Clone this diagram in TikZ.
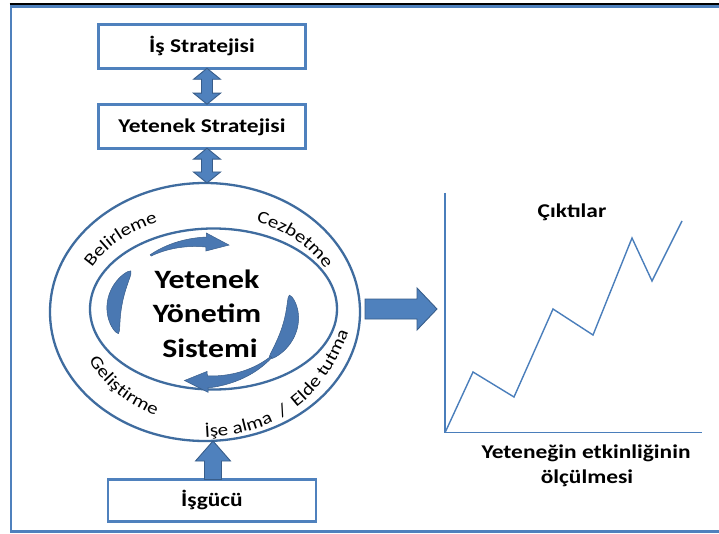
\documentclass[tikz,border=0pt]{standalone}
\usepackage{fontspec}
\setmainfont{Carlito}[FakeStretch=1.2]
\usetikzlibrary{calc,decorations.text,shapes.geometric}
\definecolor{boxblue}{HTML}{4F81BD}
\definecolor{arrowedge}{HTML}{385D8A}
\definecolor{ringblue}{HTML}{3F6C9F}
\definecolor{chartblue}{HTML}{4A7EBB}
\definecolor{swirl}{HTML}{4A78B2}
\newcommand\ringfont{\fontsize{17.5}{21}\selectfont}
\newcommand\swirlarrow[6]{%
\filldraw[swirlfill] plot[domain=#1:#2, samples=25, variable=\t] ({203+(89+(#4+(#5-#4)*(\t-#1)/(#2-#1)))*cos(\t)}, {312+(70+(#4+(#5-#4)*(\t-#1)/(#2-#1)))*sin(\t)})
 -- ({203+(89+#6)*cos(#2)},{312+(70+#6)*sin(#2)})
 -- ({203+89*cos(#3)},{312+70*sin(#3)})
 -- ({203+(89-#6)*cos(#2)},{312+(70-#6)*sin(#2)})
 -- plot[domain=#2:#1, samples=25, variable=\t] ({203+(89-(#4+(#5-#4)*(\t-#1)/(#2-#1)))*cos(\t)}, {312+(70-(#4+(#5-#4)*(\t-#1)/(#2-#1)))*sin(\t)}) -- cycle;}
\newcommand\swirlmoon[3]{%
\filldraw[swirlfill] plot[domain=#1:#2, samples=30, variable=\t] ({203+(89+#3*sin((\t-#1)*180/(#2-#1))^0.6)*cos(\t)}, {312+(70+#3*sin((\t-#1)*180/(#2-#1))^0.6)*sin(\t)}) -- plot[domain=#2:#1, samples=30, variable=\t] ({203+(89-#3*sin((\t-#1)*180/(#2-#1))^0.6)*cos(\t)}, {312+(70-#3*sin((\t-#1)*180/(#2-#1))^0.6)*sin(\t)}) -- cycle;}
\newcommand\vdouble[3]{%
\filldraw[blockarrow] let \p1=(#2), \p2=(#3) in
 (#1pt,\y1) -- (#1pt+13.5pt,\y1-11pt) -- (#1pt+5.5pt,\y1-11pt) -- (#1pt+5.5pt,\y2+11pt) -- (#1pt+13.5pt,\y2+11pt)
 -- (#1pt,\y2) -- (#1pt-13.5pt,\y2+11pt) -- (#1pt-5.5pt,\y2+11pt) -- (#1pt-5.5pt,\y1-11pt) -- (#1pt-13.5pt,\y1-11pt) -- cycle;}
\begin{document}
\begin{tikzpicture}[x=1pt,y=-1pt,
  box/.style={draw=boxblue, line width=2.8pt, fill=white, minimum width=207pt, minimum height=44pt, inner sep=0pt, outer sep=0pt, font=\fontsize{19.5}{23}\selectfont\bfseries, text height=12.5pt, text depth=0pt},
  blockarrow/.style={fill=boxblue, draw=arrowedge, line width=0.9pt, line join=miter},
  ringline/.style={draw=ringblue, line width=2.3pt, ellipse, inner sep=0pt, outer sep=0pt},
  swirlfill/.style={fill=swirl, draw=arrowedge, line width=0.5pt},
  ringtext/.style={decorate, decoration={text along path, text align=center, text={|\ringfont|#1}}},
  ringtextleft/.style={decorate, decoration={text along path, text align=left, text={|\ringfont|#1}}},
  coretext/.style={anchor=base, font=\fontsize{26.5}{30}\selectfont\bfseries, inner sep=0pt},
  chartlabel/.style={anchor=base, font=\fontsize{19.5}{23}\selectfont\bfseries, inner sep=0pt},
  axisline/.style={draw=chartblue, line width=1.4pt},
]
\useasboundingbox (0,0) rectangle (719,534);
\fill[white] (0,0) rectangle (719,534);
% frame
\draw[boxblue, line width=2.8pt] (11,6.3) rectangle (730,531.5);
\draw[black, line width=1.6pt] (9.6,4.2) -- (730,4.2);

% boxes
\node[box] (is) at (202,46.3) {İş Stratejisi};
\node[box] (yet) at (202,126.2) {Yetenek Stratejisi};
\node[box, minimum width=208pt, minimum height=42pt] (isg) at (212,500.5) {İşgücü};

% ellipses
\node[ringline, minimum width=310pt, minimum height=258pt] (ring) at (205,312) {};
\node[ringline, minimum width=247pt, minimum height=161pt] (inner) at (213.5,309) {};

% vertical arrows
\vdouble{207}{is.south}{yet.north}
\vdouble{207}{yet.south}{ring.north}
\filldraw[blockarrow] let \p1=(isg.north), \p2=(ring.south) in
 (204.5pt,\y1) -- (204.5pt,\y2-20pt) -- (195.5pt,\y2-20pt) -- (213pt,\y2) -- (230.5pt,\y2-20pt) -- (221.5pt,\y2-20pt) -- (221.5pt,\y1) -- cycle;

% right arrow
\coordinate (tipR) at (437,309);
\filldraw[blockarrow] let \p1=(ring.east), \p2=(tipR) in
 (\x1+5pt,\y2+10pt) -- (\x2-20pt,\y2+10pt) -- (\x2-20pt,\y2+21pt) -- (\x2,\y2) -- (\x2-20pt,\y2-21pt) -- (\x2-20pt,\y2-10pt) -- (\x1+5pt,\y2-10pt) -- cycle;

% swirl arrows
\swirlmoon{162}{216}{7.5}
\swirlmoon{346}{402}{7.5}
\swirlarrow{234}{272}{287}{0.8}{5}{9}
\swirlarrow{40}{87}{102}{0.8}{6}{10.5}

% core text
\node[coretext] (c1) at (207,288) {Yetenek};
\node[coretext] (c2) at (207,322) {Yönetim};
\node[coretext] (c3) at (210,357) {Sistemi};

% ring texts
\path[ringtext={Belirleme}] ({208+130*cos(196)},{311+96*sin(196)}) arc[start angle=196, end angle=256, x radius=130, y radius=96];
\path[ringtext={Cezbetme}] ({208+130*cos(284)},{311+96*sin(284)}) arc[start angle=284, end angle=344, x radius=130, y radius=96];
\path[ringtext={Geliştirme}] ({213+138*cos(165)},{310+116*sin(165)}) arc[start angle=165, end angle=105, x radius=138, y radius=116];
\path[ringtextleft={İşe alma {~}/{~} Elde tutma}] (205,437) .. controls (268,434) and (325,410) .. (354,316);

% chart
\coordinate (O) at (445,432.7);
\coordinate (ytop) at (445,193);
\coordinate (xend) at (702,432.7);
\draw[axisline] (ytop) -- (O) -- (xend);
\draw[chartblue, line width=1.4pt, line join=miter] (O) -- (473,372) -- (514,397) -- (553,309) -- (593,335) -- (632,238) -- (652,281) -- (682,221);
\node[chartlabel] (out) at (572,218) {Çıktılar};
\node[chartlabel] (m1) at (586,458) {Yeteneğin etkinliğinin};
\node[chartlabel] (m2) at (587,483) {ölçülmesi};
\end{tikzpicture}
\end{document}
